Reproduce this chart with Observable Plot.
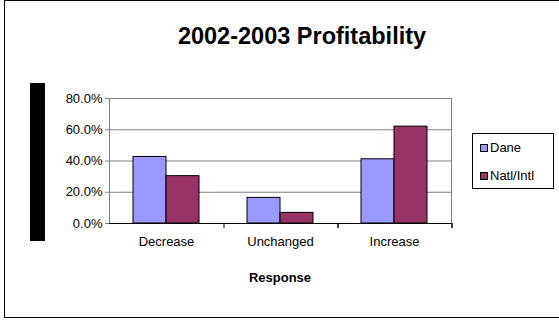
<!DOCTYPE html>
<html>
<head>
<meta charset="utf-8">
<script src="https://cdn.jsdelivr.net/npm/d3@7"></script>
<script src="https://cdn.jsdelivr.net/npm/@observablehq/plot@0.6"></script>
<style>
  html, body { margin: 0; padding: 0; background: #fff; }
  #chart { position: relative; width: 559px; height: 321px; overflow: hidden; font-family: Arial, "Liberation Sans", sans-serif; }
  #chart svg { position: absolute; left: 0; top: 0; }
  .border { position: absolute; left: 4px; top: 0px; width: 570px; height: 318px; border: 1px solid #000; box-sizing: border-box; }
  .title { position: absolute; left: 102px; width: 400px; top: 22px; text-align: center; font-weight: bold; font-size: 23.5px; line-height: 28px; color: #000; }
  .ybox { position: absolute; left: 30px; top: 83px; width: 15px; height: 158px; background: #000; }
  .xtitle { position: absolute; left: 108px; width: 344px; top: 270px; text-align: center; font-weight: bold; font-size: 13px; color: #000; }
  .legend { position: absolute; left: 472px; top: 133px; width: 82px; height: 56px; border: 1px solid #000; box-sizing: border-box; background: #fff; }
  .item { position: absolute; left: 7px; font-size: 13px; line-height: 15px; white-space: nowrap; }
  .sw { display: inline-block; width: 6px; height: 6px; border: 1px solid #000; margin-right: 2px; vertical-align: 0px; }
</style>
</head>
<body>
<div id="chart">
  <div class="border"></div>
</div>
<script>
const title = "2002-2003 Profitability";
const xTitle = "Response";
const categories = ["Decrease", "Unchanged", "Increase"];
const seriesNames = ["Dane", "Natl/Intl"];
const seriesColors = ["#9999FF", "#993366"];
const daneValues = [0.426, 0.164, 0.411];
const natlValues = [0.303, 0.068, 0.620];
const yTicks = [0, 0.2, 0.4, 0.6, 0.8];

const rows = [];
categories.forEach((c, i) => {
  rows.push({category: c, series: seriesNames[0], value: daneValues[i]});
  rows.push({category: c, series: seriesNames[1], value: natlValues[i]});
});

// category boundary ticks (Excel style: between categories)
function boundaryTicks(index, scales, values, dimensions) {
  const g = d3.create("svg:g");
  const {marginLeft, marginRight, width, height, marginBottom} = dimensions;
  const y0 = height - marginBottom;
  let xs;
  if (scales.fx) {
    xs = categories.map(c => scales.fx(c));
    xs.push(scales.fx(categories[categories.length - 1]) + scales.fx.bandwidth());
  } else {
    const w = (width - marginLeft - marginRight) / categories.length;
    xs = d3.range(categories.length + 1).map(i => marginLeft + i * w);
  }
  xs.slice(1, -1).forEach(x => {
    g.append("line").attr("x1", x).attr("x2", x).attr("y1", y0).attr("y2", y0 + 5)
      .attr("stroke", "#000").attr("stroke-width", 1);
  });
  return g.node();
}

const plot = Plot.plot({
  width: 559,
  height: 321,
  marginLeft: 108,
  marginRight: 107,
  marginTop: 98,
  marginBottom: 98,
  style: {fontFamily: "Arial, 'Liberation Sans', sans-serif", fontSize: "13px", color: "#000", background: "transparent"},
  fx: {domain: categories, padding: 0, label: null},
  x: {domain: seriesNames, paddingInner: 0, paddingOuter: 0.69, axis: null},
  y: {domain: [0, 0.8], label: null},
  color: {domain: seriesNames, range: seriesColors},
  marks: [
    Plot.gridY(yTicks, {stroke: "#808080", strokeOpacity: 1, strokeWidth: 1}),
    Plot.frame({stroke: "#808080", strokeWidth: 1, facet: "super"}),
    Plot.axisY(yTicks, {tickFormat: d3.format(".1%"), tickSize: 4, tickPadding: 3, stroke: "#808080", fill: "#000", fontSize: 13, label: null}),
    Plot.axisFx({anchor: "bottom", tickSize: 0, tickPadding: 13, fontSize: 13, fill: "#000", label: null}),
    Plot.barY(rows, {fx: "category", x: "series", y: "value", fill: "series", stroke: "#000", strokeWidth: 1}),
    Plot.ruleY([0], {stroke: "#000", strokeWidth: 1}),
    boundaryTicks,
  ]
});

const chart = document.getElementById("chart");
chart.appendChild(plot);

const t = document.createElement("div"); t.className = "title"; t.textContent = title; chart.appendChild(t);
const yb = document.createElement("div"); yb.className = "ybox"; chart.appendChild(yb);
const xt = document.createElement("div"); xt.className = "xtitle"; xt.textContent = xTitle; chart.appendChild(xt);
const lg = document.createElement("div"); lg.className = "legend";
seriesNames.forEach((s, i) => {
  const it = document.createElement("div"); it.className = "item";
  it.style.top = (6 + i * 28) + "px";
  const sw = document.createElement("span"); sw.className = "sw"; sw.style.background = seriesColors[i];
  it.appendChild(sw); it.appendChild(document.createTextNode(s));
  lg.appendChild(it);
});
chart.appendChild(lg);
</script>
</body>
</html>
